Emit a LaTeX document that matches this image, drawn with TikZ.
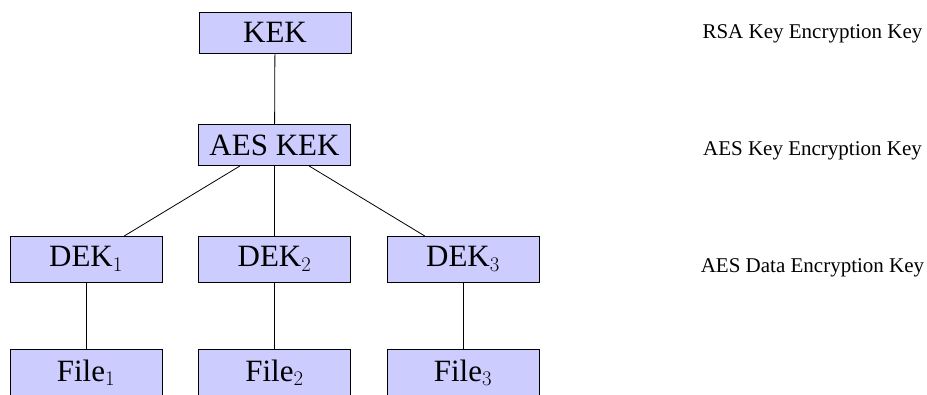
\documentclass[tikz,border=0pt]{standalone}
\usepackage{fontspec}
\setmainfont{Liberation Serif}
\begin{document}
\begin{tikzpicture}[x=1pt,y=-1pt,
  keybox/.style={draw=black, fill=blue!20, line width=0.8pt, anchor=north,
    minimum width=152pt, inner xsep=4pt, inner ysep=10.2pt,
    font=\fontsize{31}{36}\selectfont},
  levellabel/.style={anchor=base, font=\fontsize{21}{25}\selectfont},
  link/.style={draw=black, line width=0.8pt}]
\useasboundingbox (0,0) rectangle (927,394);

% key hierarchy
\node[keybox] (kek) at (275,12) {KEK};
\node[keybox] (aes) at (274.5,124) {AES KEK};
\node[keybox] (dek1) at (86,236) {DEK$_1$};
\node[keybox] (dek2) at (274.5,236) {DEK$_2$};
\node[keybox] (dek3) at (463,236) {DEK$_3$};
\node[keybox] (f1) at (86,349) {File$_1$};
\node[keybox] (f2) at (274.5,349) {File$_2$};
\node[keybox] (f3) at (463,349) {File$_3$};

% level descriptions
\node[levellabel] (l1) at (812.5,38) {RSA Key Encryption Key};
\node[levellabel] (l2) at (812.5,155) {AES Key Encryption Key};
\node[levellabel] (l3) at (812.5,272) {AES Data Encryption Key};

% connectors
\path[link] (kek) -- (aes);
\path[link] (aes) -- (dek1);
\path[link] (aes) -- (dek2);
\path[link] (aes) -- (dek3);
\path[link] (dek1) -- (f1);
\path[link] (dek2) -- (f2);
\path[link] (dek3) -- (f3);
\end{tikzpicture}
\end{document}
